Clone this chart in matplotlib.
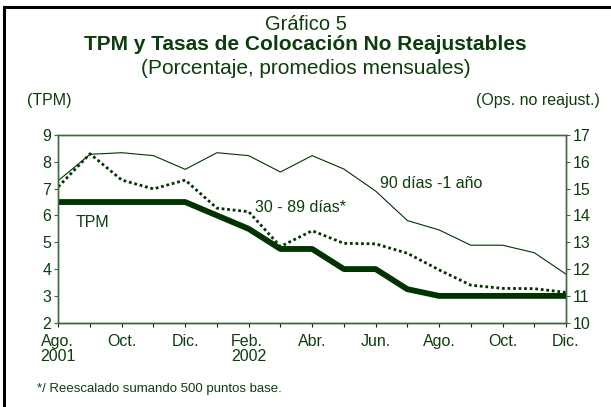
import matplotlib
matplotlib.use("Agg")
import matplotlib.pyplot as plt
from matplotlib.lines import Line2D

plt.rcParams['font.family'] = ['Liberation Sans', 'DejaVu Sans']

months = list(range(17))  # Aug 2001 .. Dec 2002
tpm = [6.5, 6.5, 6.5, 6.5, 6.5, 6.0, 5.5, 4.75, 4.75, 4.0, 4.0, 3.25, 3.0, 3.0, 3.0, 3.0, 3.0]
d90_1y = [15.3, 16.28, 16.34, 16.23, 15.72, 16.34, 16.23, 15.62, 16.23, 15.73, 14.91,
          13.81, 13.46, 12.89, 12.89, 12.61, 11.81]
d30_89 = [15.07, 16.3, 15.32, 14.99, 15.32, 14.27, 14.14, 12.84, 13.43, 12.96, 12.94,
          12.59, 11.97, 11.40, 11.28, 11.27, 11.13]
xtick_pos = [0, 2, 4, 6, 8, 10, 12, 14, 16]
xtick_labels = ["Ago.\n2001", "Oct.", "Dic.", "Feb.\n2002", "Abr.", "Jun.", "Ago.", "Oct.", "Dic."]

GREEN = '#003300'
TEXT = '#0d3d0d'
SPINE = '#3d6b3d'

fig = plt.figure(figsize=(6.11, 4.07), dpi=100)
ax = fig.add_axes([0.0954, 0.2071, 0.831, 0.4612])
ax2 = ax.twinx()

ax.plot(months, tpm, color=GREEN, lw=4.2, solid_capstyle='butt', zorder=3)
ax2.plot(months, d90_1y, color=GREEN, lw=0.8)
ax2.plot(months, d30_89, color=GREEN, lw=2.0, linestyle=(0, (1, 1)))

ax.set_xlim(0, 16)
ax.set_ylim(2, 9)
ax2.set_ylim(10, 17)
ax.set_yticks(range(2, 10))
ax2.set_yticks(range(10, 18))
ax.set_xticks(xtick_pos)
ax.set_xticklabels(xtick_labels)
ax.set_xticks(months, minor=True)

for a in (ax, ax2):
    for s in a.spines.values():
        s.set_color(SPINE)
        s.set_linewidth(1.0)
    a.tick_params(axis='both', which='both', colors=SPINE, labelcolor=TEXT,
                  labelsize=11.5, length=3, width=0.8, direction='out', pad=2)
ax.spines['bottom'].set_color(GREEN)
ax.tick_params(axis='x', which='both', colors=GREEN, labelcolor=TEXT, length=3, pad=5)
for lbl in ax.get_xticklabels():
    lbl.set_multialignment('left')
    lbl.set_linespacing(1.05)

ax.text(0.55, 5.75, "TPM", color=TEXT, fontsize=11.5, va='center', ha='left')
ax2.text(6.2, 14.3, "30 - 89 días*", color=TEXT, fontsize=11.5, va='center', ha='left')
ax2.text(10.15, 15.2, "90 días -1 año", color=TEXT, fontsize=11.5, va='center', ha='left')

fig.text(0.5, 1 - 24/407, "Gráfico 5", ha='center', va='center', fontsize=14.5, color=TEXT)
fig.text(0.5, 1 - 45/407, "TPM y Tasas de Colocación No Reajustables", ha='center', va='center',
         fontsize=15, fontweight='bold', color=TEXT)
fig.text(0.5, 1 - 69/407, "(Porcentaje, promedios mensuales)", ha='center', va='center',
         fontsize=15, color=TEXT)
fig.text(27/611, 1 - 101/407, "(TPM)", ha='left', va='center', fontsize=11.5, color=TEXT)
fig.text(600/611, 1 - 101/407, "(Ops. no reajust.)", ha='right', va='center', fontsize=11.5, color=TEXT)
fig.text(37/611, 1 - 389/407, "*/ Reescalado sumando 500 puntos base.", ha='left', va='center',
         fontsize=9.5, color=TEXT)

# partial frame (top and left)
fig.add_artist(Line2D([4/611, 1], [1 - 7/407, 1 - 7/407], transform=fig.transFigure, color='black', lw=2.2))
fig.add_artist(Line2D([4/611, 4/611], [0, 1 - 7/407], transform=fig.transFigure, color='black', lw=2.2))

fig.savefig("out.png", dpi=100)
